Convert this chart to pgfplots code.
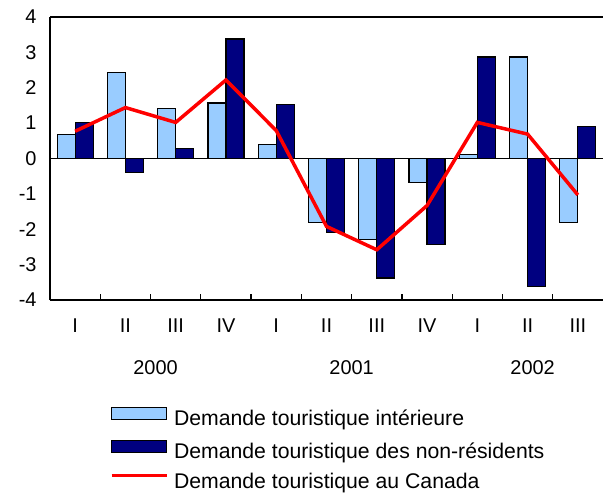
\documentclass[border=0pt]{standalone}
\usepackage{pgfplots}
\pgfplotsset{compat=1.18}
\usepackage{fontspec}
\setmainfont{Liberation Sans}
\definecolor{lblue}{HTML}{99CCFF}
\definecolor{navy}{HTML}{000080}
\begin{document}
\begin{tikzpicture}
\useasboundingbox (-50bp,-196bp) rectangle (553bp,300bp);
\begin{axis}[
  scale only axis, width=553bp, height=283bp,
  xmin=-0.5, xmax=10.5, ymin=-4, ymax=4,
  axis x line*=bottom, axis y line*=left,
  axis line style={black, line width=1.5bp, -},
  tick align=inside,
  xtick={0,...,10},
  xticklabels={I,II,III,IV,I,II,III,IV,I,II,III},
  major x tick style={draw=none},
  minor xtick={0.5,1.5,...,9.5},
  minor tick length=6bp,
  minor x tick style={black, line width=1.2bp},
  ytick={-4,-3,...,4},
  major y tick style={draw=none},
  tick label style={font=\fontsize{20}{24}\selectfont},
  /pgf/number format/assume math mode=true,
  yticklabel style={xshift=-10bp},
  xticklabel style={yshift=-15bp},
  clip=false,
  legend cell align=left,
  legend style={draw=none, fill=none, at={(rel axis cs:0,0)}, anchor=north west,
    xshift=60bp, yshift=-107bp, inner sep=0pt, outer sep=0pt,
    font=\fontsize{21.3}{25}\selectfont, row sep=11bp, column sep=6bp,
    nodes={inner sep=0pt, text height=15bp, text depth=4bp}},
]
\addplot[ybar, bar width=18bp, bar shift=-9bp, fill=lblue, draw=black, line width=1.2bp,
  legend image code/.code={\draw[fill=lblue, draw=black, line width=1.2bp] (0bp,0bp) rectangle (55bp,12bp);}]
  coordinates {(0,0.68) (1,2.43) (2,1.41) (3,1.57) (4,0.40) (5,-1.80) (6,-2.30) (7,-0.67) (8,0.12) (9,2.87) (10,-1.80)};
\addlegendentry{Demande touristique intérieure}
\addplot[ybar, bar width=18bp, bar shift=9bp, fill=navy, draw=black, line width=1.2bp,
  legend image code/.code={\draw[fill=navy, draw=black, line width=1.2bp] (0bp,0bp) rectangle (55bp,12bp);}]
  coordinates {(0,1.02) (1,-0.40) (2,0.29) (3,3.38) (4,1.53) (5,-2.09) (6,-3.38) (7,-2.44) (8,2.87) (9,-3.62) (10,0.90)};
\addlegendentry{Demande touristique des non-résidents}
\addplot[black, line width=1.2bp, forget plot] coordinates {(-0.5,0) (10.5,0)};
\addplot[red, line width=3.5bp, sharp plot, mark=none,
  legend image code/.code={\draw[red, line width=3bp] (0bp,7bp) -- (55bp,7bp);}]
  coordinates {(0,0.77) (1,1.44) (2,1.02) (3,2.22) (4,0.79) (5,-1.92) (6,-2.58) (7,-1.33) (8,1.02) (9,0.69) (10,-1.03)};
\addlegendentry{Demande touristique au Canada}
\draw[black, line width=1.2bp] (rel axis cs:0,1) -- (rel axis cs:1,1);
\draw[gray, line width=1bp] (rel axis cs:1,1) -- (rel axis cs:1,0);
\node[font=\fontsize{20}{24}\selectfont] at (axis cs:1.6,-4) [yshift=-68bp] {2000};
\node[font=\fontsize{20}{24}\selectfont] at (axis cs:5.5,-4) [yshift=-68bp] {2001};
\node[font=\fontsize{20}{24}\selectfont] at (axis cs:9.1,-4) [yshift=-68bp] {2002};
\end{axis}
\end{tikzpicture}
\end{document}
